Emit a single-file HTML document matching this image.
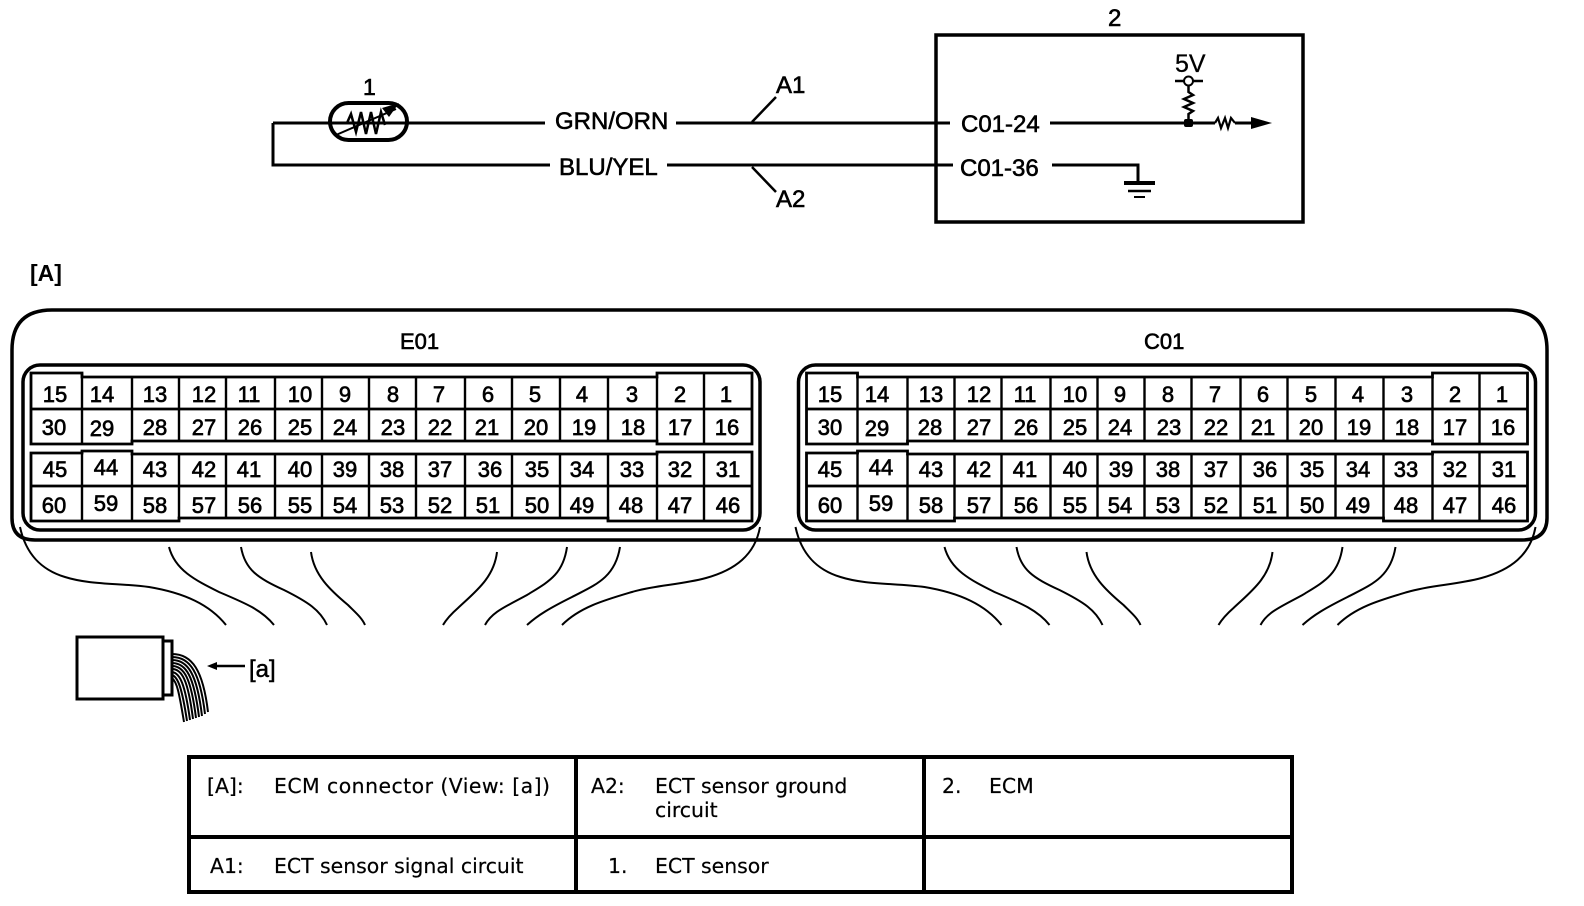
<!DOCTYPE html>
<html><head><meta charset="utf-8"><style>
html,body{margin:0;padding:0;background:#fff}
svg{display:block}
text{font-family:"Liberation Sans",sans-serif;fill:#000}
.n text{font-size:22px;text-anchor:middle;stroke:#000;stroke-width:.65}
.t text{font-family:"DejaVu Sans",sans-serif;font-size:20.400px;fill:#000;stroke:#000;stroke-width:.2}
.l{font-size:24px;stroke:#000;stroke-width:.6}
</style></head><body>
<svg width="1584" height="906" viewBox="0 0 1584 906" xmlns="http://www.w3.org/2000/svg">
<rect width="1584" height="906" fill="#fff"/>
<g fill="none" stroke="#000" stroke-width="3">
<path d="M273 123H545M676 123H950M1050 123H1188H1215M1235 123H1251M273 123V165H550M667 165H953M1052 165H1138V183"/>
<path d="M752 122L776 97M752 167L776 192" stroke-width="2.500"/>
<rect x="936" y="35" width="367" height="187" stroke-width="3.500"/>
<rect x="330" y="103" width="77" height="37" rx="18.500" stroke-width="4"/>
<path d="M336 135L396 109" stroke-width="2"/>
<path d="M347 123L351 114L356 132L361 112L366 134L371 112L376 134L381 112L385 125" stroke-width="2.500"/>
<path d="M1175 81H1203M1188.500 86V92L1193 95L1184 99L1193 103L1184 107L1193 111L1188.500 114V123" stroke-width="2.500"/>
<path d="M1215 123L1218 118L1221 128L1225 118L1228 128L1231 118L1235 123" stroke-width="2.200"/>
<path d="M1124 183H1155" stroke-width="4"/><path d="M1128 191H1151" stroke-width="2.500"/><path d="M1134 197H1145" stroke-width="2"/>
</g>
<path d="M399 103L382 108L389 117Z"/>
<circle cx="1188.500" cy="81" r="4.500" fill="#fff" stroke="#000" stroke-width="2"/>
<rect x="1184" y="119" width="9" height="8" rx="2"/>
<path d="M1251 117L1272 123L1251 129Z"/>
<text class="l" x="363" y="95" style="font-size:23px">1</text>
<text class="l" x="1108" y="26">2</text>
<text class="l" x="1175" y="72" style="font-size:25px;stroke-width:.3">5V</text>
<text class="l" x="555" y="129">GRN/ORN</text>
<text class="l" x="559" y="175">BLU/YEL</text>
<text class="l" x="776" y="93">A1</text>
<text class="l" x="776" y="207">A2</text>
<text class="l" x="961" y="132">C01-24</text>
<text class="l" x="960" y="176">C01-36</text>
<text x="30" y="281" style="font-size:23px;font-weight:bold">[A]</text>
<text class="l" x="400" y="349" style="font-size:22px">E01</text>
<text class="l" x="1144" y="349" style="font-size:22px">C01</text>

<path d="M12 518V350Q12 310 52 310H1507Q1547 310 1547 350V518Q1547 540 1522 540H35Q12 540 12 518Z" fill="none" stroke="#000" stroke-width="3.500"/>
<g id="c" fill="none" stroke="#000" stroke-width="2.400">
<rect x="23" y="365" width="737" height="165" rx="17" stroke-width="3.500"/>
<path stroke-width="2.800" d="M31 373H82V377H657V373H752V444H657V441H132V444H31Z"/>
<path stroke-width="2.800" d="M31 453H82V451H132V454H657V452H752V521H608V518H179V521H31Z"/>
<path stroke-width="2.800" d="M31 409H752M31 486H752"/>
<path d="M82 373V444M132 377V444M179 377V441M226 377V441M275 377V441M322 377V441M369 377V441M416 377V441M465 377V441M512 377V441M560 377V441M608 377V441M657 377V441M704 373V444M82 451V521M132 454V521M179 454V518M226 454V518M275 454V518M322 454V518M369 454V518M416 454V518M465 454V518M512 454V518M560 454V518M608 454V521M657 452V521M704 452V521"/>
<path stroke-width="2" d="M20 527C26 555 42 570 65 577C90 585 120 583 149 587C185 593 210 605 226 625M169 547C175 570 195 580 219 592C245 603 262 610 274 625M241 547C245 570 258 578 284 590C308 602 320 610 327 625M311 552C314 575 330 590 348 605C356 613 362 618 365 625M497 552C494 578 475 592 458 608C450 615 446 620 443 625M567 547C563 575 548 582 527 595C505 607 492 612 485 625M620 547C615 578 595 585 572 597C550 608 538 615 527 625M760 527C755 555 735 570 706 578C680 585 655 585 632 592C605 600 580 607 562 625"/>
</g>
<use href="#c" transform="translate(775.500 0)"/>

<g class="n">
<text x="55" y="402">15</text><text x="102" y="402">14</text><text x="155" y="402">13</text><text x="204" y="402">12</text><text x="249" y="402">11</text><text x="300" y="402">10</text><text x="345" y="402">9</text><text x="393" y="402">8</text><text x="439" y="402">7</text><text x="488" y="402">6</text><text x="535" y="402">5</text><text x="582" y="402">4</text><text x="632" y="402">3</text><text x="680" y="402">2</text><text x="726" y="402">1</text>
<text x="54" y="435">30</text><text x="102" y="436">29</text><text x="155" y="435">28</text><text x="204" y="435">27</text><text x="250" y="435">26</text><text x="300" y="435">25</text><text x="345" y="435">24</text><text x="393" y="435">23</text><text x="440" y="435">22</text><text x="487" y="435">21</text><text x="536" y="435">20</text><text x="584" y="435">19</text><text x="633" y="435">18</text><text x="680" y="435">17</text><text x="727" y="435">16</text>
<text x="55" y="477">45</text><text x="106" y="475">44</text><text x="155" y="477">43</text><text x="204" y="477">42</text><text x="249" y="477">41</text><text x="300" y="477">40</text><text x="345" y="477">39</text><text x="392" y="477">38</text><text x="440" y="477">37</text><text x="490" y="477">36</text><text x="537" y="477">35</text><text x="582" y="477">34</text><text x="632" y="477">33</text><text x="680" y="477">32</text><text x="728" y="477">31</text>
<text x="54" y="513">60</text><text x="106" y="511">59</text><text x="155" y="513">58</text><text x="204" y="513">57</text><text x="250" y="513">56</text><text x="300" y="513">55</text><text x="345" y="513">54</text><text x="392" y="513">53</text><text x="440" y="513">52</text><text x="488" y="513">51</text><text x="537" y="513">50</text><text x="582" y="513">49</text><text x="631" y="513">48</text><text x="680" y="513">47</text><text x="728" y="513">46</text>

<text x="830" y="402">15</text><text x="877" y="402">14</text><text x="931" y="402">13</text><text x="979" y="402">12</text><text x="1025" y="402">11</text><text x="1075" y="402">10</text><text x="1120" y="402">9</text><text x="1168" y="402">8</text><text x="1215" y="402">7</text><text x="1263" y="402">6</text><text x="1311" y="402">5</text><text x="1358" y="402">4</text><text x="1407" y="402">3</text><text x="1455" y="402">2</text><text x="1502" y="402">1</text>
<text x="830" y="435">30</text><text x="877" y="436">29</text><text x="930" y="435">28</text><text x="979" y="435">27</text><text x="1026" y="435">26</text><text x="1075" y="435">25</text><text x="1120" y="435">24</text><text x="1169" y="435">23</text><text x="1216" y="435">22</text><text x="1263" y="435">21</text><text x="1311" y="435">20</text><text x="1359" y="435">19</text><text x="1407" y="435">18</text><text x="1455" y="435">17</text><text x="1503" y="435">16</text>
<text x="830" y="477">45</text><text x="881" y="475">44</text><text x="931" y="477">43</text><text x="979" y="477">42</text><text x="1025" y="477">41</text><text x="1075" y="477">40</text><text x="1121" y="477">39</text><text x="1168" y="477">38</text><text x="1216" y="477">37</text><text x="1265" y="477">36</text><text x="1312" y="477">35</text><text x="1358" y="477">34</text><text x="1406" y="477">33</text><text x="1455" y="477">32</text><text x="1504" y="477">31</text>
<text x="830" y="513">60</text><text x="881" y="511">59</text><text x="931" y="513">58</text><text x="979" y="513">57</text><text x="1026" y="513">56</text><text x="1075" y="513">55</text><text x="1120" y="513">54</text><text x="1168" y="513">53</text><text x="1216" y="513">52</text><text x="1265" y="513">51</text><text x="1312" y="513">50</text><text x="1358" y="513">49</text><text x="1406" y="513">48</text><text x="1455" y="513">47</text><text x="1504" y="513">46</text>
</g>

<g fill="none" stroke="#000">
<rect x="77" y="637" width="86" height="62" stroke-width="3"/>
<path d="M163 641H172V695H163" stroke-width="3"/>
<path stroke-width="2" d="M172 654C192 654 203 670 208 712M172 657C190 657 200 672 205 714M172 660C188 660 197 674 202 716M172 663C186 663 194 676 199 717M172 666C184 666 191 678 196 718M172 669C182 669 188 680 193 719M172 672C180 673 185 684 190 720M172 675C178 677 182 688 187 721M172 678C177 682 179 692 184 722"/>
<path d="M215 666H245" stroke-width="2.500"/>
</g>
<path d="M207 666L217 662V670Z"/>
<text class="l" x="249" y="677" style="stroke-width:.5">[a]</text>

<g fill="none" stroke="#000" stroke-width="4">
<rect x="189" y="757" width="1103" height="135"/>
<path d="M189 837H1292M576 757V892M924 757V892"/>
</g>
<g class="t">
<text x="207" y="793">[A]:</text><text x="274" y="793" textLength="276">ECM connector (View: [a])</text>
<text x="591" y="793">A2:</text><text x="655" y="793">ECT sensor ground</text><text x="655" y="817">circuit</text>
<text x="942" y="793">2.</text><text x="989" y="793">ECM</text>
<text x="210" y="873">A1:</text><text x="274" y="873">ECT sensor signal circuit</text>
<text x="608" y="873">1.</text><text x="655" y="873">ECT sensor</text>
</g>
</svg>
</body></html>
